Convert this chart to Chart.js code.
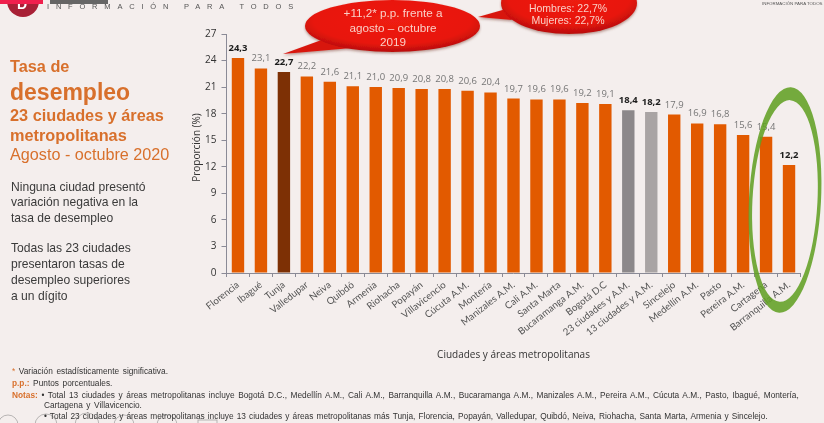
<!DOCTYPE html>
<html>
<head>
<meta charset="utf-8">
<title>Tasa de desempleo</title>
<script src="https://cdn.jsdelivr.net/npm/chart.js@4"></script>
<style>
html, body { margin: 0; padding: 0; background: #f4eeed; overflow: hidden; }
#wrap { position: relative; width: 824px; height: 423px; }
#chart { position: absolute; left: 0; top: 0; }
svg { position: absolute; left: 0; top: 0; }
text { font-family: "Liberation Sans", Arial, sans-serif; }
.t1 { fill: #d8702c; font-size: 16.3px; font-weight: bold; }
.t2 { fill: #d8702c; font-size: 16.2px; }
.body { fill: #3a3a3a; font-size: 12.1px; }
.note { fill: #333; font-size: 8.3px; word-spacing: 1.3px; }
.bubble { fill: #f9cfc6; text-anchor: middle; }
.icon { fill: none; stroke: #777; stroke-width: 0.8; opacity: 0.6; }
</style>
</head>
<body>
<div id="wrap">
<canvas id="chart" width="824" height="423"></canvas>
<svg width="824" height="423" viewBox="0 0 824 423">
  <defs>
    <radialGradient id="red" cx="50%" cy="40%" r="60%">
      <stop offset="0%" stop-color="#ee1c12"/>
      <stop offset="75%" stop-color="#e8140e"/>
      <stop offset="100%" stop-color="#b80f0c"/>
    </radialGradient>
    <filter id="soft" x="-10%" y="-10%" width="120%" height="130%">
      <feDropShadow dx="0" dy="1.5" stdDeviation="1.2" flood-color="#7a3a30" flood-opacity="0.5"/>
    </filter>
  </defs>

  <!-- header pieces -->
  <circle cx="23" cy="1" r="16" fill="#a82036"/>
  <text x="17" y="9" style="font-size:14px;font-weight:bold;fill:#fff">D</text>
  <rect x="0" y="0" width="43" height="4" fill="#f01f4d"/>
  <rect x="50" y="0" width="58" height="4" fill="#666"/>
  <text x="47" y="9" style="font-size:7.5px;fill:#555;letter-spacing:6.8px">INFORMACIÓN PARA TODOS</text>
  <text x="762" y="5" style="font-size:4.4px;fill:#555">INFORMACIÓN PARA TODOS</text>

  <!-- left text -->
  <text class="t1" x="10" y="72">Tasa de</text>
  <text class="t1" x="10" y="100" style="font-size:23px">desempleo</text>
  <text class="t1" x="10" y="121">23 ciudades y áreas</text>
  <text class="t1" x="10" y="141">metropolitanas</text>
  <text class="t2" x="10" y="160">Agosto - octubre 2020</text>

  <text class="body" x="11" y="191">Ninguna ciudad presentó</text>
  <text class="body" x="11" y="206">variación negativa en la</text>
  <text class="body" x="11" y="222">tasa de desempleo</text>
  <text class="body" x="11" y="252">Todas las 23 ciudades</text>
  <text class="body" x="11" y="268">presentaron tasas de</text>
  <text class="body" x="11" y="284">desempleo superiores</text>
  <text class="body" x="11" y="300">a un dígito</text>

  <!-- callouts -->
  <g filter="url(#soft)">
    <path d="M283 54 L327 38 L352 48 Z" fill="#d81410"/>
    <ellipse cx="392.5" cy="26" rx="87.5" ry="26" fill="url(#red)"/>
    <path d="M478 17 L506 9 L512 20 Z" fill="#d81410"/>
    <ellipse cx="569" cy="3" rx="68" ry="31" fill="url(#red)"/>
  </g>
  <text class="bubble" x="393" y="17" style="font-size:11.7px">+11,2* p.p. frente a</text>
  <text class="bubble" x="393" y="32" style="font-size:11.7px">agosto – octubre</text>
  <text class="bubble" x="393" y="46" style="font-size:11.7px">2019</text>
  <text class="bubble" x="568" y="12" style="font-size:10.5px">Hombres: 22,7%</text>
  <text class="bubble" x="568" y="24" style="font-size:10.5px">Mujeres: 22,7%</text>

  <!-- footer icons, cut off by the window -->
  <circle class="icon" cx="8" cy="425" r="10"/>
  <circle class="icon" cx="46" cy="425" r="11"/>
  <circle class="icon" cx="87" cy="425" r="12"/>
  <circle class="icon" cx="124" cy="425" r="10"/>
  <circle class="icon" cx="167" cy="425" r="10"/>
  <rect class="icon" x="198" y="420" width="19" height="8"/>

  <!-- footnotes -->
  <text class="note" x="12" y="374"><tspan fill="#d8702c">*</tspan> Variación estadísticamente significativa.</text>
  <text class="note" x="12" y="386"><tspan fill="#d8702c" font-weight="bold">p.p.:</tspan> Puntos porcentuales.</text>
  <text class="note" x="12" y="398"><tspan fill="#d8702c" font-weight="bold">Notas:</tspan> • Total 13 ciudades y áreas metropolitanas incluye Bogotá D.C., Medellín A.M., Cali A.M., Barranquilla A.M., Bucaramanga A.M., Manizales A.M., Pereira A.M., Cúcuta A.M., Pasto, Ibagué, Montería,</text>
  <text class="note" x="44" y="408">Cartagena y Villavicencio.</text>
  <text class="note" x="44" y="419" style="word-spacing:0.8px">• Total 23 ciudades y áreas metropolitanas incluye 13 ciudades y áreas metropolitanas más Tunja, Florencia, Popayán, Valledupar, Quibdó, Neiva, Riohacha, Santa Marta, Armenia y Sincelejo.</text>

  <!-- green hand drawn ring -->
  <path fill-rule="evenodd" fill="#62a024" fill-opacity="0.88" transform="rotate(3 785 200)"
    d="M749 200 A36 113 0 1 1 821 200 A36 113 0 1 1 749 200 Z
       M752.5 201 A32.5 101 0 1 0 817.5 201 A32.5 101 0 1 0 752.5 201 Z"/>
</svg>
</div>

<script>
'use strict';

var categories = ['Florencia', 'Ibagué', 'Tunja', 'Valledupar', 'Neiva', 'Quibdó', 'Armenia', 'Riohacha', 'Popayán',
  'Villavicencio', 'Cúcuta A.M.', 'Montería', 'Manizales A.M.', 'Cali A.M.', 'Santa Marta', 'Bucaramanga A.M.',
  'Bogotá D.C', '23 ciudades y A.M.', '13 ciudades y A.M.', 'Sincelejo', 'Medellín A.M.', 'Pasto', 'Pereira A.M.',
  'Cartagena', 'Barranquilla A.M.'];
var values = [24.3, 23.1, 22.7, 22.2, 21.6, 21.1, 21.0, 20.9, 20.8, 20.8, 20.6, 20.4, 19.7, 19.6, 19.6, 19.2, 19.1,
  18.4, 18.2, 17.9, 16.9, 16.8, 15.6, 15.4, 12.2];
var boldLabels = ['Florencia', 'Tunja', '23 ciudades y A.M.', '13 ciudades y A.M.', 'Barranquilla A.M.'];
var yTitle = 'Proporción (%)';
var xTitle = 'Ciudades y áreas metropolitanas';

var barColor = function(name){
  if(name === 'Tunja') {return '#7d3005';}
  if(name === '23 ciudades y A.M.') {return '#8c888a';}
  if(name === '13 ciudades y A.M.') {return '#a9a4a4';}
  return '#e25a00';
};

// value labels above the bars, comma decimal like the original
var valueLabels = {
  id: 'valueLabels',
  afterDatasetsDraw: function(chart){
    var ctx = chart.ctx;
    var bars = chart.getDatasetMeta(0).data;
    ctx.save();
    ctx.textAlign = 'center';
    ctx.textBaseline = 'bottom';
    for(var i = 0; i < bars.length; i++){
      var bold = boldLabels.indexOf(categories[i]) !== -1;
      ctx.font = (bold ? 'bold ' : '') + '9.5px "Open Sans"';
      ctx.fillStyle = bold ? '#1c1c1c' : '#757575';
      ctx.fillText(values[i].toFixed(1).replace('.', ','), bars[i].x, bars[i].y - 5);
    }
    ctx.restore();
  }
};

Chart.defaults.font.family = '"Open Sans"';

new Chart(document.getElementById('chart'), {
  type: 'bar',
  data: {
    labels: categories,
    datasets: [{
      data: values,
      backgroundColor: categories.map(barColor),
      categoryPercentage: 1,
      barPercentage: 0.54
    }]
  },
  options: {
    responsive: false,
    animation: false,
    layout: {padding: {top: 34, right: 23.5, bottom: 62, left: 0}},
    plugins: {legend: {display: false}, tooltip: {enabled: false}},
    scales: {
      x: {
        afterFit: function(scale){ scale.height = 88; },
        grid: {drawOnChartArea: false, tickLength: 4, color: '#8a8a96'},
        border: {color: '#8a8a96'},
        ticks: {autoSkip: false, minRotation: 38, maxRotation: 38, padding: 2, color: '#555', font: {family: 'Lato', size: 9.7}},
        title: {display: true, text: xTitle, color: '#333', font: {size: 10}, padding: 0}
      },
      y: {
        min: 0,
        max: 27,
        afterFit: function(scale){ scale.width = 226.5; },
        grid: {drawOnChartArea: false, tickLength: 5, color: '#8a8a96'},
        border: {color: '#8a8a96'},
        ticks: {stepSize: 3, padding: 5, color: '#333', font: {size: 10}},
        title: {display: false}
      }
    }
  },
  plugins: [valueLabels, {
    // axis title sits right next to the ticks, the wide left gutter holds the text block
    id: 'yTitle',
    afterDraw: function(chart){
      var ctx = chart.ctx;
      ctx.save();
      ctx.translate(197, (chart.chartArea.top + chart.chartArea.bottom) / 2 - 6);
      ctx.rotate(-Math.PI / 2);
      ctx.textAlign = 'center';
      ctx.textBaseline = 'middle';
      ctx.font = '10px "Open Sans"';
      ctx.fillStyle = '#333';
      ctx.fillText(yTitle, 0, 0);
      ctx.restore();
    }
  }]
});
</script>
</body>
</html>
